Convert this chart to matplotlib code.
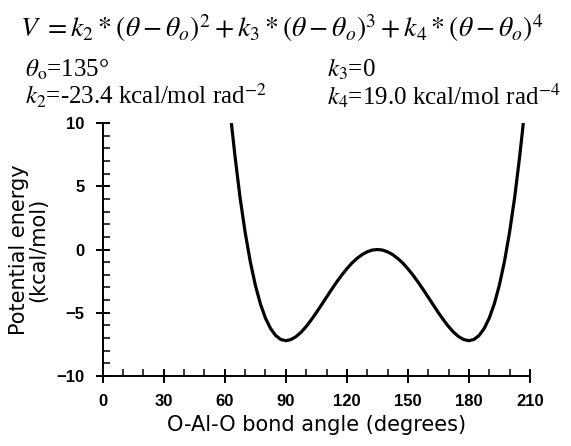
import matplotlib
matplotlib.use("Agg")
import matplotlib.pyplot as plt
from matplotlib.ticker import MultipleLocator

plt.rcParams['mathtext.fontset'] = 'stix'

# Values (angle in degrees, energy in kcal/mol)
angle = [62, 63, 63.5, 65, 67.5, 70, 72.5, 75, 77.5, 80, 82.5, 85, 87.5, 90, 92.5,
         95, 97.5, 100, 102.5, 105, 107.5, 110, 112.5, 115, 117.5, 120, 122.5, 125,
         127.5, 130, 132.5, 135, 137.5, 140, 142.5, 145, 147.5, 150, 152.5, 155,
         157.5, 160, 162.5, 165, 167.5, 170, 172.5, 175, 177.5, 180, 182.5, 185,
         187.5, 190, 192.5, 195, 197.5, 200, 202.5, 205, 206.5, 207, 208]
energy = [12.1, 10.4, 9.6, 7.4, 4.1, 1.36, -0.94, -2.81, -4.3, -5.43, -6.25, -6.8,
          -7.11, -7.21, -7.12, -6.89, -6.54, -6.09, -5.56, -4.99, -4.38, -3.77,
          -3.16, -2.57, -2.02, -1.52, -1.07, -0.7, -0.4, -0.18, -0.04, 0.0, -0.04,
          -0.18, -0.4, -0.7, -1.07, -1.52, -2.02, -2.57, -3.16, -3.77, -4.38, -4.99,
          -5.56, -6.09, -6.54, -6.89, -7.12, -7.21, -7.11, -6.8, -6.25, -5.43, -4.3,
          -2.81, -0.94, 1.36, 4.1, 7.4, 9.6, 10.4, 12.1]

xticks = [0, 30, 60, 90, 120, 150, 180, 210]
yticks = [-10, -5, 0, 5, 10]

fig = plt.figure(figsize=(5.71, 4.46), dpi=100)
ax = fig.add_axes([0.180, 0.157, 0.748, 0.567])
ax.plot(angle, energy, color='black', lw=2.3, solid_capstyle='round',
        solid_joinstyle='round')
ax.set_xlim(0, 210)
ax.set_ylim(-10, 10)
ax.set_xticks(xticks)
ax.set_yticks(yticks)
ax.xaxis.set_minor_locator(MultipleLocator(10))
ax.yaxis.set_minor_locator(MultipleLocator(1))
for s in ['top', 'right']:
    ax.spines[s].set_visible(False)
for s in ['left', 'bottom']:
    ax.spines[s].set_linewidth(1.4)
ax.tick_params(which='major', direction='inout', length=10, width=1.4,
               labelsize=12, pad=8)
ax.tick_params(which='minor', direction='in', length=5, width=1.1)
for lab in ax.get_xticklabels() + ax.get_yticklabels():
    lab.set_fontfamily('Liberation Sans')
    lab.set_fontweight('bold')
ax.set_xlabel('O-Al-O bond angle (degrees)', fontsize=15,
              fontfamily='DejaVu Sans', labelpad=4)
ax.set_ylabel('Potential energy\n(kcal/mol)', fontsize=15,
              fontfamily='DejaVu Sans', labelpad=6, linespacing=0.95)

fig.text(0.035, 0.917,
         r'$V\ =k_2*\left(\theta-\theta_o\right)^2+k_3*\left(\theta-\theta_o\right)^3+k_4*\left(\theta-\theta_o\right)^4$',
         fontsize=20, va='baseline')
fig.text(0.043, 0.827, r'$\theta_{\mathrm{o}}$=135°', fontsize=18,
         fontfamily='Liberation Serif', va='baseline')
fig.text(0.572, 0.827, r'$k_3$=0', fontsize=18,
         fontfamily='Liberation Serif', va='baseline')
fig.text(0.043, 0.765, r'$k_2$=-23.4 kcal/mol rad$^{\mathrm{-2}}$', fontsize=18,
         fontfamily='Liberation Serif', va='baseline')
fig.text(0.572, 0.765, r'$k_4$=19.0 kcal/mol rad$^{\mathrm{-4}}$', fontsize=18,
         fontfamily='Liberation Serif', va='baseline')

fig.savefig('out.png', dpi=100)
